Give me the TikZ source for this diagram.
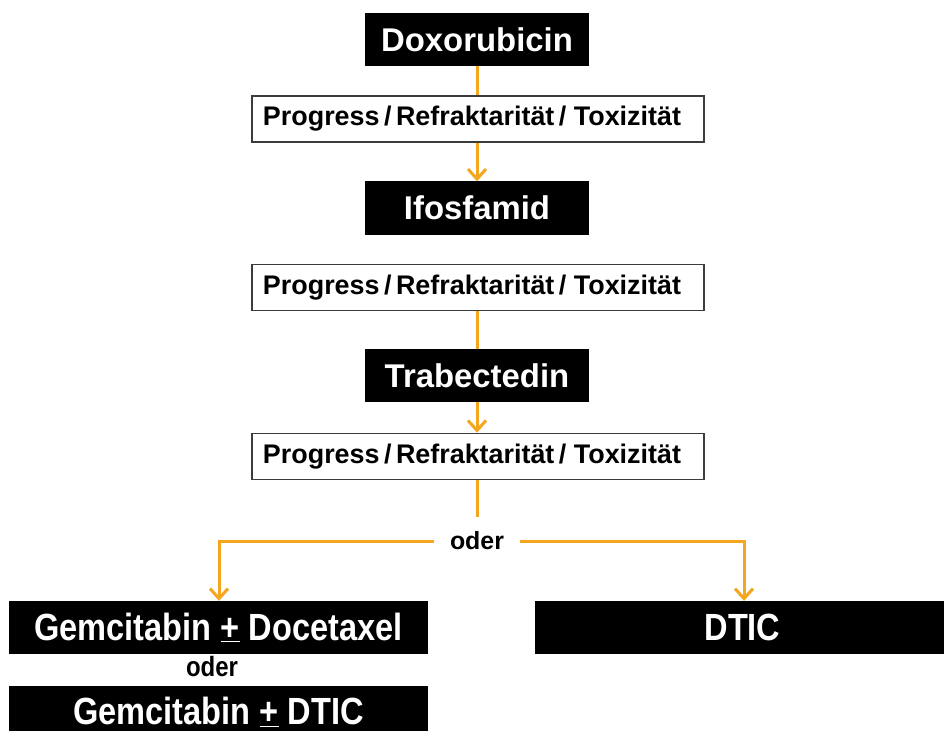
\documentclass[tikz,border=0pt]{standalone}
\usepackage{fontspec}
\setmainfont{Liberation Sans}
\newfontfamily\narrowfont[FakeStretch=0.86]{Liberation Sans}
\usetikzlibrary{arrows.meta}
\definecolor{flow}{RGB}{245,165,30}
\definecolor{frame}{RGB}{60,60,60}
\newcommand{\pdtext}{Progress\,/\,Refraktarität\,/ Toxizität\hspace*{12bp}}
\tikzset{
  drug/.style={fill=black, text=white, inner sep=0pt, minimum width=224bp, minimum height=53bp,
    font=\fontsize{33}{36}\selectfont\bfseries},
  event/.style={draw=frame, line width=1.6bp, fill=white, inner sep=0pt, minimum width=452bp,
    minimum height=46bp, font=\fontsize{27}{30}\selectfont\bfseries},
  option/.style={fill=black, text=white, inner sep=0pt, minimum height=53bp,
    font=\narrowfont\fontsize{38}{42}\selectfont\bfseries},
  link/.style={draw=flow, line width=3bp},
  arrowlink/.style={link, -{Straight Barb[length=10bp,width=18bp,line width=3bp]}},
}
\begin{document}
\begin{tikzpicture}[x=1bp, y=-1bp]
  \clip (0,0) rectangle (944,731);
  \fill[white] (0,0) rectangle (944,731);

  % main sequence
  \node[drug]  (doxo) at (477,39.5)  {Doxorubicin};
  \node[event] (ev1)  at (478,119)   {\pdtext};
  \node[drug]  (ifo)  at (477,208)   {Ifosfamid};
  \node[event] (ev2)  at (478,287.5) {\pdtext};
  \node[drug]  (trab) at (477,375.5) {Trabectedin};
  \node[event] (ev3)  at (478,456.5) {\pdtext};

  % branching
  \node[font=\fontsize{25}{28}\selectfont\bfseries, inner sep=0pt, minimum width=86bp] (or) at (477,541) {oder};
  \node[option, minimum width=419bp] (gemdoc) at (218.5,627.5) {Gemcitabin \underline{+} Docetaxel};
  \node[font=\narrowfont\fontsize{28}{30}\selectfont\bfseries, inner sep=0pt] (or2) at (212,667) {oder};
  \node[option, minimum width=419bp, minimum height=52bp] (gemdtic) at (218.5,712) {Gemcitabin \underline{+} DTIC};
  \node[option, minimum width=415bp] (dtic) at (742.5,627.5) {DTIC};

  \coordinate (lcorner) at (219,541);
  \coordinate (rcorner) at (744,541);
  \coordinate (stem) at (477,517);

  % connectors
  \draw[link] (doxo.south) -- (ev1.north -| doxo.south);
  \draw[arrowlink] (ev1.south -| ifo.north) -- (ifo.north);
  \draw[link] (ev2.south -| trab.north) -- (trab.north);
  \draw[arrowlink] (trab.south) -- (ev3.north -| trab.south);
  \draw[link] (ev3.south -| stem) -- (stem);
  \draw[arrowlink] (or.west) -- (lcorner) -- (lcorner |- gemdoc.north);
  \draw[arrowlink] (or.east) -- (rcorner) -- (rcorner |- dtic.north);
\end{tikzpicture}
\end{document}
